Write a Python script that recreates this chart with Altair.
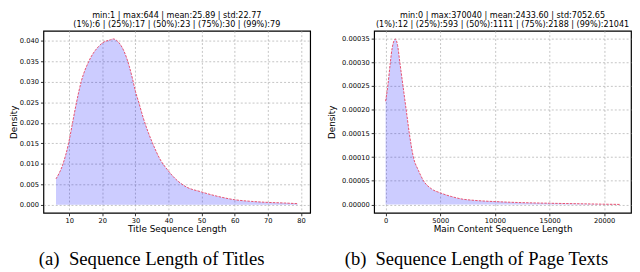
import altair as alt
import pandas as pd

# ---- data ----
title_x = [6, 8, 9.8, 11, 12.2, 13.6, 15.9, 18.8, 20, 22.5, 23.3, 24.2, 25.1, 26.6, 28.1, 29.1,
           30, 31, 32.4, 33.9, 35.4, 37.3, 40, 42.1, 45, 50, 55, 60, 65, 70, 75, 79]
title_y = [0.0063, 0.0097, 0.0150, 0.0200, 0.0250, 0.0300, 0.0350, 0.0386, 0.0395, 0.0403, 0.0405,
           0.0402, 0.0395, 0.0374, 0.0339, 0.0308, 0.0277, 0.0250, 0.0211, 0.0176, 0.0146, 0.0113,
           0.0082, 0.0063, 0.0045, 0.0031, 0.0020, 0.0012, 0.0008, 0.00055, 0.0004, 0.00024]

page_x = [0, 200, 434, 600, 896, 1100, 1300, 1590, 1880, 2170, 2540, 3000, 3470, 4200, 5000,
          6000, 7000, 8000, 10000, 12500, 15000, 17500, 20000, 21500]
page_y = [2.18e-4, 2.5e-4, 3.0e-4, 3.3e-4, 3.49e-4, 3.35e-4, 3.0e-4, 2.5e-4, 2.0e-4, 1.5e-4,
          1.0e-4, 0.72e-4, 0.5e-4, 0.33e-4, 0.246e-4, 0.17e-4, 0.115e-4, 0.09e-4, 0.062e-4,
          0.04e-4, 0.027e-4, 0.017e-4, 0.007e-4, 0.002e-4]

title_ticks_x = [10, 20, 30, 40, 50, 60, 70, 80]
title_ticks_y = [0, 0.005, 0.010, 0.015, 0.020, 0.025, 0.030, 0.035, 0.040]
page_ticks_x = [0, 5000, 10000, 15000, 20000]
page_ticks_y = [0, 0.00005, 0.00010, 0.00015, 0.00020, 0.00025, 0.00030, 0.00035]

title_stats = ["min:1 | max:644 | mean:25.89 | std:22.77",
               "(1%):6 | (25%):17 | (50%):23 | (75%):30 | (99%):79"]
page_stats = ["min:0 | max:370040 | mean:2433.60 | std:7052.65",
              "(1%):12 | (25%):593 | (50%):1111 | (75%):2188 | (99%):21041"]

H = 185

AX = dict(labelOverlap=False, labelFlush=False, labelBound=False)


def panel(xs, ys, xlab, xdom, xticks, ydom, yticks, yfmt, w, stats, caption, cap_x, cap_size, ytp):
    df = pd.DataFrame({"x": xs, "y": ys})
    xenc = alt.X("x:Q", scale=alt.Scale(domain=xdom, nice=False, zero=False),
                 axis=alt.Axis(values=xticks, tickCount=len(xticks), title=xlab, format="d", **AX))
    yenc = alt.Y("y:Q", scale=alt.Scale(domain=ydom, nice=False, zero=False),
                 axis=alt.Axis(values=yticks, tickCount=len(yticks), format=yfmt, title="Density",
                               titlePadding=ytp, **AX))
    base = alt.Chart(df).encode(x=xenc, y=yenc)
    area = base.mark_area(color="#0000ff", fillOpacity=0.2, interpolate="monotone").encode(
        y2=alt.datum(0))
    line = base.mark_line(color="#e8506e", strokeWidth=1, strokeDash=[2.5, 1.2],
                          interpolate="monotone")
    cap = alt.Chart(pd.DataFrame({"t": [caption]})).mark_text(
        font="Liberation Serif", fontSize=cap_size, baseline="middle", align="center", color="black"
    ).encode(x=alt.value(cap_x), y=alt.value(H + 47), text="t:N")
    return alt.layer(area, line, cap).properties(
        width=w, height=H,
        title=alt.TitleParams(stats, fontSize=8.2, font="DejaVu Sans", fontWeight="normal",
                              lineHeight=8.8, offset=2, anchor="middle", color="black"))


left = panel(title_x, title_y, "Title Sequence Length", [2.2, 82.8], title_ticks_x,
             [-0.002, 0.0425], title_ticks_y, ".3f", 271, title_stats,
             "(a)\u2002Sequence Length of Titles", 110, 19, 1)
right = panel(page_x, page_y, "Main Content Sequence Length", [-1050, 22450], page_ticks_x,
              [-0.0000175, 0.0003665], page_ticks_y, ".5f", 261, page_stats,
              "(b)\u2002Sequence Length of Page Texts", 104, 18.8, 5)

chart = alt.hconcat(left, right, spacing=65, bounds="flush").properties(padding=0).configure_view(
    stroke="black", strokeWidth=1.2
).configure_axis(
    domain=False, grid=True, gridColor="#aaaaaa", gridDash=[2, 2], gridWidth=0.7,
    tickColor="black", tickSize=3, tickWidth=0.8, labelPadding=2,
    labelFont="DejaVu Sans", labelFontSize=6.8, labelColor="black",
    titleFont="DejaVu Sans", titleFontSize=9, titleFontWeight="normal", titleColor="black"
).configure_axisX(titlePadding=0.5)

chart.save("out.html", embed_options={"renderer": "svg", "actions": False})
